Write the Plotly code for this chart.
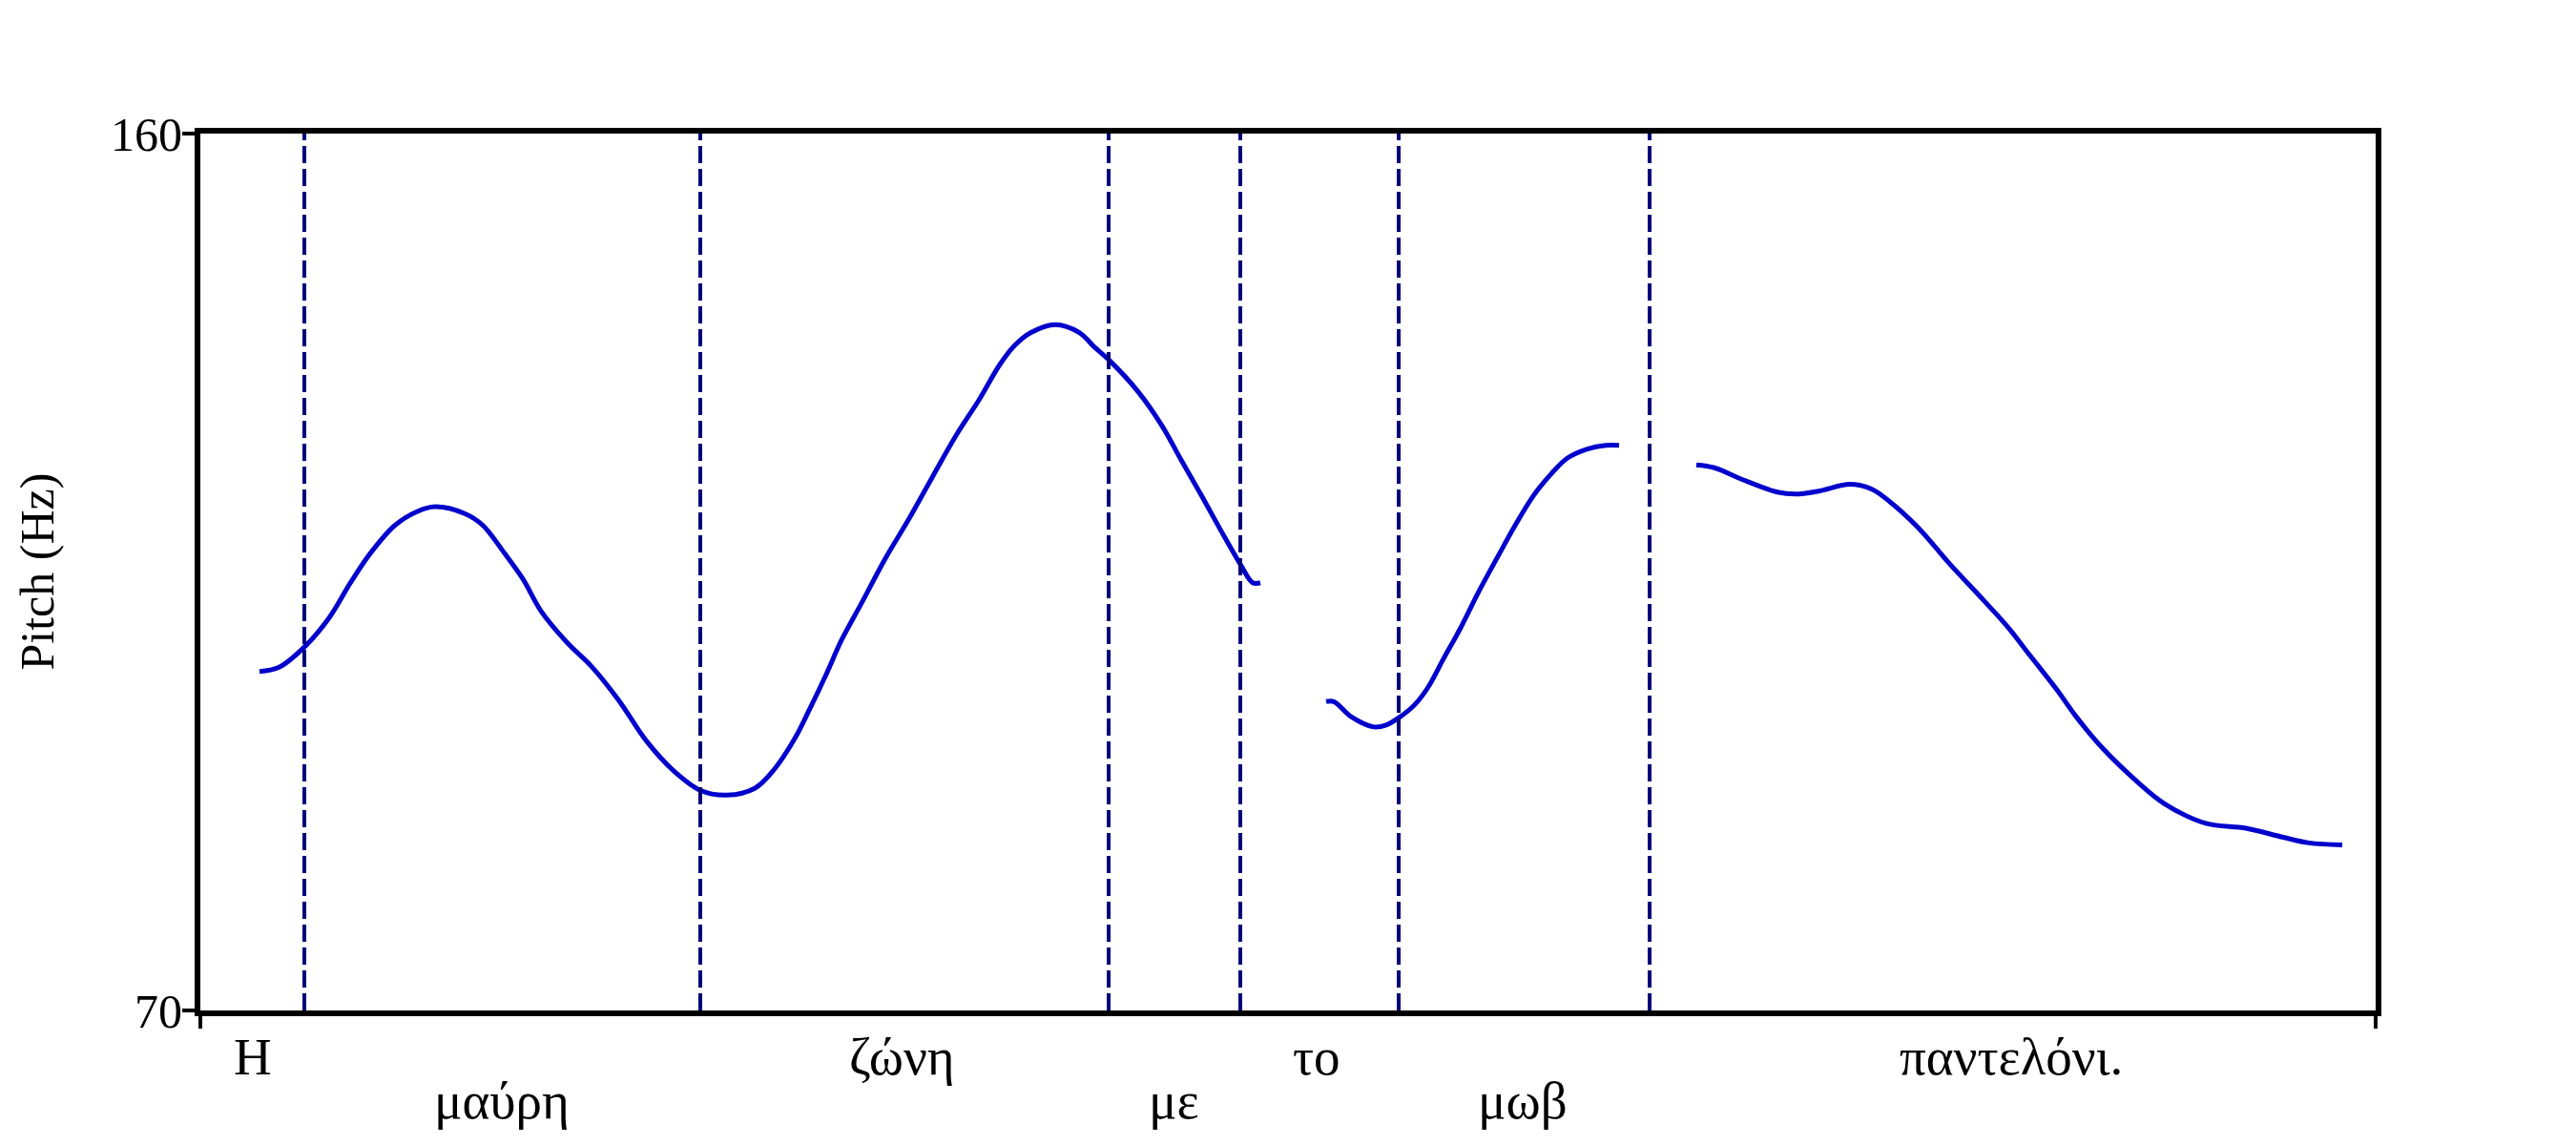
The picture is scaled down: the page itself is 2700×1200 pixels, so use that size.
import plotly.graph_objects as go

# Time axis in seconds, pitch in Hz
X_RANGE = [0.0, 2.28]
Y_RANGE = [70, 160]
y_ticks = [70, 160]

# Pitch contour segments (time s, pitch Hz)
seg1_t = [0.062, 0.082, 0.110, 0.135, 0.158, 0.178, 0.204, 0.227, 0.246, 0.277, 0.296, 0.319,
          0.338, 0.357, 0.384, 0.411, 0.438, 0.468, 0.495, 0.524, 0.550, 0.581, 0.602, 0.623,
          0.639, 0.656, 0.672, 0.693, 0.718, 0.743, 0.767, 0.792, 0.817, 0.838, 0.854, 0.871,
          0.896, 0.921, 0.937, 0.952, 0.983, 1.008, 1.028, 1.049, 1.070, 1.090, 1.103, 1.111]
seg1_f = [104.8, 105.2, 107.4, 110.3, 114.0, 116.9, 119.8, 121.2, 121.7, 121.0, 119.8, 116.9,
          114.3, 111.0, 107.8, 105.2, 101.9, 97.6, 94.7, 92.6, 92.1, 92.8, 94.8, 97.9,
          101.0, 104.5, 108.0, 111.8, 116.4, 120.5, 124.7, 129.0, 132.8, 136.3, 138.3, 139.6,
          140.4, 139.6, 138.1, 136.8, 133.5, 130.0, 126.5, 122.9, 119.2, 115.8, 113.9, 113.9]

seg2_t = [1.180, 1.188, 1.207, 1.230, 1.243, 1.257, 1.273, 1.287, 1.303, 1.320, 1.340, 1.360,
          1.377, 1.397, 1.417, 1.433, 1.453, 1.473, 1.487]
seg2_f = [101.7, 101.7, 100.1, 99.1, 99.3, 100.1, 101.4, 103.2, 106.1, 109.1, 113.0, 116.6,
          119.6, 122.8, 125.2, 126.7, 127.6, 128.0, 128.0]

seg3_t = [1.568, 1.587, 1.616, 1.653, 1.672, 1.696, 1.729, 1.752, 1.771, 1.800, 1.833, 1.870,
          1.894, 1.918, 1.946, 1.965, 1.993, 2.031, 2.059, 2.102, 2.144, 2.182, 2.210, 2.245]
seg3_f = [126.0, 125.7, 124.5, 123.2, 123.0, 123.3, 124.0, 123.5, 122.2, 119.6, 115.9, 112.0,
          109.4, 106.4, 102.9, 100.3, 97.0, 93.4, 91.2, 89.2, 88.7, 87.8, 87.2, 87.0]

# Word boundaries (s)
boundaries = [0.109, 0.524, 0.952, 1.090, 1.256, 1.519]

# Word labels: text, time position, row (0 = upper, 1 = lower)
words = ["Η", "μαύρη", "ζώνη", "με", "το", "μωβ", "παντελόνι."]
word_t = [0.055, 0.316, 0.735, 1.020, 1.170, 1.386, 1.898]
word_row = [0, 1, 0, 1, 0, 1, 0]

FONT = "Liberation Serif, Times New Roman, serif"
CURVE = "#0000CC"
DASH = "#00007A"

fig = go.Figure()

for t, f in [(seg1_t, seg1_f), (seg2_t, seg2_f), (seg3_t, seg3_f)]:
    fig.add_trace(go.Scatter(x=t, y=f, mode="lines",
                             line=dict(color=CURVE, width=5, shape="spline", smoothing=1.0),
                             showlegend=False, hoverinfo="skip"))

for b in boundaries:
    fig.add_trace(go.Scatter(x=[b, b], y=Y_RANGE, mode="lines",
                             line=dict(color=DASH, width=4, dash="18px,6px"),
                             showlegend=False, hoverinfo="skip"))

for w, t, r in zip(words, word_t, word_row):
    fig.add_annotation(x=t, xref="x", y=0, yref="paper", text=w, showarrow=False,
                       xanchor="center", yanchor="top", yshift=-16 - 46 * r,
                       font=dict(family=FONT, size=55, color="black"))

fig.add_annotation(x=0, xref="paper", y=0.5, yref="paper", text="Pitch (Hz)",
                   showarrow=False, textangle=-90, xanchor="center", yanchor="middle",
                   xshift=-172, font=dict(family=FONT, size=50, color="black"))

fig.update_layout(
    width=2700, height=1200,
    margin=dict(l=202, r=218, t=132, b=149),
    paper_bgcolor="white", plot_bgcolor="white",
    showlegend=False,
    xaxis=dict(range=X_RANGE, showgrid=False, zeroline=False, showline=True, linecolor="black",
               linewidth=6, mirror=True, ticks="outside", ticklen=13, tickwidth=4,
               tickcolor="black", tickvals=X_RANGE, ticktext=["", ""]),
    yaxis=dict(range=Y_RANGE, showgrid=False, zeroline=False, showline=True, linecolor="black",
               linewidth=6, mirror=True, ticks="outside", ticklen=13, tickwidth=4,
               tickcolor="black", tickvals=y_ticks, ticktext=[str(v) for v in y_ticks],
               ticklabelstandoff=-10,
               tickfont=dict(family=FONT, size=50, color="black")),
)

fig.write_html("out.html")
